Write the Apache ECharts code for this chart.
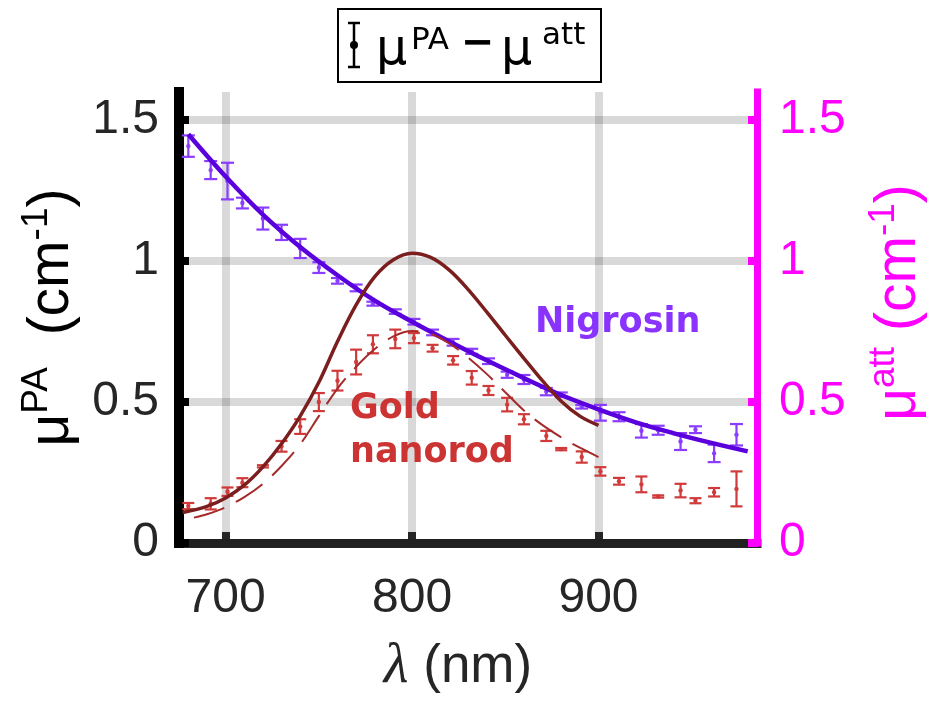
<!DOCTYPE html>
<html><head><meta charset="utf-8">
<script src="https://cdn.jsdelivr.net/npm/echarts@6/dist/echarts.min.js"></script>
<style>html,body{margin:0;padding:0;background:#fff}#c{width:944px;height:701px}</style>
</head><body><div id="c"></div>
<script>
// ---- data ----
const wavelengths = [680,692,701,709,720,730,740,750,760,770,779,791,801,811,822,832,841,851,860,872,880,891,901,911,923,932,944,952,962,974];
const nigrosinMean = [1.408,1.323,1.284,1.206,1.151,1.102,1.045,0.977,0.930,0.905,0.849,0.821,0.785,0.747,0.712,0.680,0.645,0.597,0.580,0.537,0.526,0.483,0.462,0.448,0.398,0.400,0.360,0.402,0.318,0.384];
const nigrosinErr  = [0.038,0.032,0.065,0.019,0.039,0.027,0.034,0.019,0.010,0.012,0.007,0.008,0.010,0.010,0.012,0.009,0.010,0.011,0.016,0.013,0.008,0.006,0.028,0.016,0.024,0.016,0.030,0.012,0.031,0.038];
const goldMean = [0.131,0.139,0.182,0.214,0.272,0.343,0.413,0.500,0.576,0.642,0.705,0.724,0.727,0.691,0.648,0.586,0.541,0.491,0.439,0.380,0.333,0.305,0.254,0.219,0.208,0.165,0.186,0.150,0.180,0.192];
const goldErr  = [0.011,0.020,0.015,0.016,0.004,0.019,0.026,0.032,0.035,0.044,0.032,0.033,0.018,0.012,0.015,0.024,0.016,0.024,0.018,0.018,0.004,0.020,0.015,0.012,0.028,0.004,0.024,0.009,0.015,0.062];

const nigrosinFitX = [680,700,720,740,760,780,800,820,840,860,880,900,920,940,960,980];
const nigrosinFitY = [1.45,1.30,1.165,1.05,0.95,0.86,0.785,0.715,0.648,0.585,0.525,0.474,0.428,0.39,0.356,0.325];
const goldFitX = [677,690,700,710,720,730,740,750,760,770,780,790,800,810,820,830,840,850,860,870,880,890,900];
const goldFitY = [0.108,0.13,0.16,0.205,0.27,0.352,0.45,0.57,0.715,0.845,0.945,1.005,1.028,1.013,0.968,0.9,0.82,0.737,0.655,0.575,0.503,0.45,0.417];
const goldDashX = [683,690,700,710,720,730,740,750,760,770,780,790,800,810,820,830,840,850,860,870,880,890,900];
const goldDashY = [0.09,0.102,0.127,0.163,0.21,0.273,0.35,0.45,0.548,0.625,0.688,0.733,0.752,0.742,0.708,0.658,0.6,0.535,0.47,0.418,0.375,0.338,0.305];

const xTicks = [700,800,900];
const yTicks = [0,0.5,1,1.5];

const zip = (a,b,c) => a.map((v,i)=> c ? [v,b[i],c[i]] : [v,b[i]]);

function errRenderer(color, capW){
  return function(params, api){
    const x = api.value(0), m = api.value(1), e = api.value(2);
    const top = api.coord([x, m+e]), bot = api.coord([x, m-e]), mid = api.coord([x, m]);
    const st = {stroke: color, lineWidth: 2.2, fill: null};
    return {type:'group', children:[
      {type:'line', shape:{x1:top[0],y1:top[1],x2:bot[0],y2:bot[1]}, style:st},
      {type:'line', shape:{x1:top[0]-capW/2,y1:top[1],x2:top[0]+capW/2,y2:top[1]}, style:st},
      {type:'line', shape:{x1:bot[0]-capW/2,y1:bot[1],x2:bot[0]+capW/2,y2:bot[1]}, style:st},
      {type:'circle', shape:{cx:mid[0],cy:mid[1],r:2.2}, style:{fill:color}}
    ]};
  };
}

const chart = echarts.init(document.getElementById('c'), null, {renderer:'canvas'});
const tickFont = {fontFamily:'Liberation Sans', fontSize:48};
const nameRich = (col) => ({
  t:{fontFamily:'Liberation Sans', fontSize:57, color:col, lineHeight:68, verticalAlign:'middle'},
  s:{fontFamily:'Liberation Sans', fontSize:37, color:col, verticalAlign:'top'}
});

chart.setOption({
  animation:false,
  backgroundColor:'#fff',
  grid:{left:179, right:187, top:92, bottom:155, containLabel:false},
  xAxis:{
    type:'value', min:675, max:985, z:0,
    name:'{i|λ} (nm)', nameLocation:'middle', nameGap:96,
    nameTextStyle:{fontFamily:'Liberation Sans', fontSize:53, color:'#262626', padding:[0,20,0,0],
      rich:{i:{fontFamily:'Liberation Serif', fontStyle:'italic', fontSize:57, color:'#262626'}}},
    axisLine:{lineStyle:{color:'#262626', width:9, cap:'square'}},
    axisTick:{inside:true, length:11, customValues:xTicks, lineStyle:{color:'#262626', width:8}},
    axisLabel:{customValues:xTicks, margin:32, color:'#262626', ...tickFont},
    splitLine:{show:true, lineStyle:{color:'rgba(0,0,0,0.15)', width:8}}
  },
  yAxis:[{
    type:'value', min:0, max:1.6, position:'left', z:1,
    name:'{t|μ}{s|PA}{t|  (cm}{s|-1}{t|)}', nameLocation:'middle', nameGap:93,
    nameTextStyle:{rich:nameRich('#000')},
    axisLine:{show:true, lineStyle:{color:'#000', width:10, cap:'square'}},
    axisTick:{show:true, inside:true, length:10, customValues:yTicks, lineStyle:{color:'#000', width:8}},
    axisLabel:{customValues:yTicks, margin:20, color:'#262626', ...tickFont},
    splitLine:{show:true, lineStyle:{color:'rgba(0,0,0,0.15)', width:8}}
  },{
    type:'value', min:0, max:1.6, position:'right', z:1,
    name:'{t|μ}{s|att}{t| (cm}{s|-1}{t|)}', nameLocation:'middle', nameGap:108,
    nameTextStyle:{rich:nameRich('#ff00ff'), padding:[0,0,0,30]},
    axisLine:{show:true, lineStyle:{color:'#ff00ff', width:7, cap:'square'}},
    axisTick:{show:true, inside:true, length:9, customValues:yTicks, lineStyle:{color:'#ff00ff', width:8}},
    axisLabel:{customValues:yTicks, margin:22, color:'#ff00ff', ...tickFont},
    splitLine:{show:false}
  }],
  series:[
    {type:'custom', name:'Nigrosin data', renderItem:errRenderer('#8a3cff', 13), data:zip(wavelengths,nigrosinMean,nigrosinErr), encode:{x:0,y:1}, z:2},
    {type:'custom', name:'Gold data', renderItem:errRenderer('#d03a3a', 12), data:zip(wavelengths,goldMean,goldErr), encode:{x:0,y:1}, z:2},
    {type:'line', name:'Nigrosin fit', data:zip(nigrosinFitX,nigrosinFitY), smooth:0.35, showSymbol:false, lineStyle:{color:'#5a00dc', width:4.5}, z:3},
    {type:'line', name:'Gold dashed', data:zip(goldDashX,goldDashY), smooth:0.35, showSymbol:false, lineStyle:{color:'#a52a2a', width:2, type:[32,13]}, z:4},
    {type:'line', name:'Gold fit', data:zip(goldFitX,goldFitY), smooth:0.35, showSymbol:false, lineStyle:{color:'#7b1e1e', width:3.5}, z:5}
  ],
  graphic:[
    {type:'rect', shape:{x:338,y:9,width:263,height:73}, style:{fill:'#fff', stroke:'#000', lineWidth:2}, z:10},
    {type:'line', shape:{x1:354,y1:23,x2:354,y2:67}, style:{stroke:'#000', lineWidth:2.5}, z:11},
    {type:'line', shape:{x1:348,y1:23,x2:360,y2:23}, style:{stroke:'#000', lineWidth:2.5}, z:11},
    {type:'line', shape:{x1:348,y1:67,x2:360,y2:67}, style:{stroke:'#000', lineWidth:2.5}, z:11},
    {type:'circle', shape:{cx:354,cy:45,r:4}, style:{fill:'#000'}, z:11},
    {type:'text', x:376, y:51, style:{text:'μ', font:'49px "DejaVu Sans"', fill:'#000', textVerticalAlign:'middle'}, z:11},
    {type:'text', x:411, y:41, style:{text:'PA', font:'31px "DejaVu Sans"', fill:'#000', textVerticalAlign:'middle'}, z:11},
    {type:'text', x:461, y:45, style:{text:'−', font:'bold 40px "DejaVu Sans"', fill:'#000', textVerticalAlign:'middle'}, z:11},
    {type:'text', x:501, y:51, style:{text:'μ', font:'49px "DejaVu Sans"', fill:'#000', textVerticalAlign:'middle'}, z:11},
    {type:'text', x:542, y:36, style:{text:'att', font:'31px "DejaVu Sans"', fill:'#000', textVerticalAlign:'middle'}, z:11},
    {type:'text', x:535, y:323, style:{text:'Nigrosin', font:'bold 35px "DejaVu Sans"', fill:'#8a33ff', textVerticalAlign:'middle'}, z:11},
    {type:'text', x:350, y:409, style:{text:'Gold', font:'bold 35px "DejaVu Sans"', fill:'#cc3333', textVerticalAlign:'middle'}, z:11},
    {type:'text', x:350, y:453, style:{text:'nanorod', font:'bold 35px "DejaVu Sans"', fill:'#cc3333', textVerticalAlign:'middle'}, z:11}
  ]
});
</script></body></html>
